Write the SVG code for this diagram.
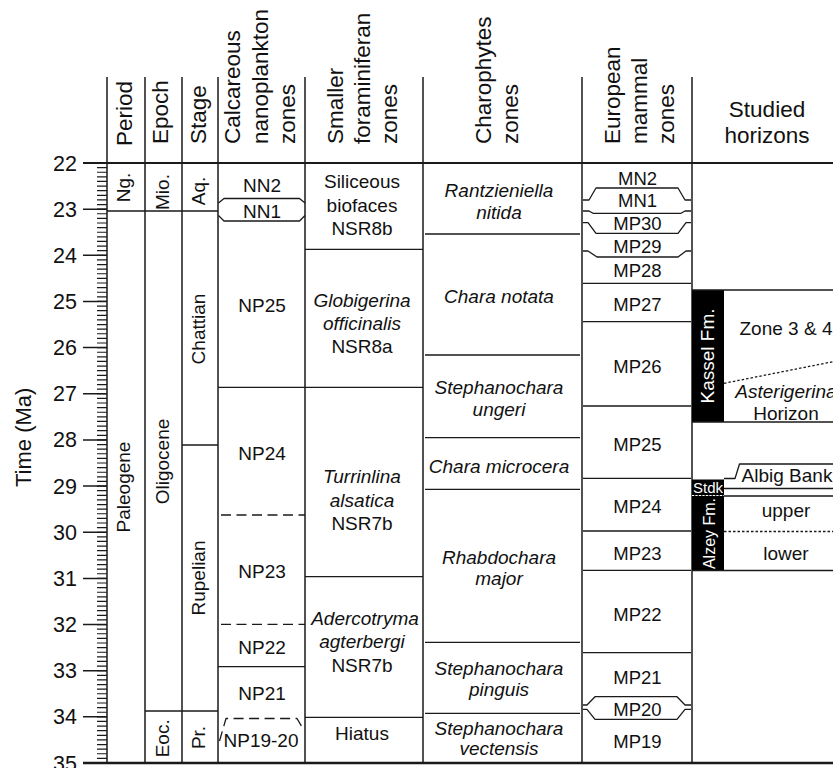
<svg xmlns="http://www.w3.org/2000/svg" width="833" height="768" viewBox="0 0 833 768">
<style>
.t{font-family:"Liberation Sans",Arial,Helvetica,sans-serif;fill:#111}
.h{font-size:22.5px}
.hm{font-size:22.5px;text-anchor:middle}
.z{font-size:19px;text-anchor:middle}
.m{font-size:18.5px;text-anchor:middle}
.i{font-style:italic}
.ax{font-size:21.5px;text-anchor:end}
.w{fill:#fff}
.ln{stroke:#1a1a1a;stroke-width:1.3;fill:none;stroke-linejoin:round}
.bd{stroke:#1a1a1a;stroke-width:1.5;fill:none}
.ds{stroke-dasharray:10 5.5}
.dt{stroke-dasharray:2.5 2}
</style>
<rect width="833" height="768" fill="#fff"/>

<g id="axis">
  <text class="t" font-size="22px" transform="translate(31,487) rotate(-90)">Time (Ma)</text>
  <path class="bd" d="M83,209.15H107M83,255.31H107M83,301.46H107M83,347.62H107M83,393.77H107M83,439.92H107M83,486.08H107M83,532.23H107M83,578.38H107M83,624.54H107M83,670.69H107M83,716.85H107"/>
  <line x1="102" y1="162.4" x2="102" y2="763.6" stroke="#1a1a1a" stroke-width="10" stroke-dasharray="1.2 3.41538"/>
  <text class="t ax" x="77" y="170.5">22</text>
  <text class="t ax" x="77" y="216.7">23</text>
  <text class="t ax" x="77" y="262.8">24</text>
  <text class="t ax" x="77" y="309">25</text>
  <text class="t ax" x="77" y="355.1">26</text>
  <text class="t ax" x="77" y="401.3">27</text>
  <text class="t ax" x="77" y="447.4">28</text>
  <text class="t ax" x="77" y="493.6">29</text>
  <text class="t ax" x="77" y="539.7">30</text>
  <text class="t ax" x="77" y="585.9">31</text>
  <text class="t ax" x="77" y="632">32</text>
  <text class="t ax" x="77" y="678.2">33</text>
  <text class="t ax" x="77" y="724.3">34</text>
  <text class="t ax" x="77" y="770.5">35</text>
</g>

<g id="frame">
  <path class="bd" d="M107,77V763M145,77V763M182,77V763M218,77V763M305,77V763M423,77V763M582,77V763M692,77V763"/>
  <line x1="83" y1="163" x2="833" y2="163" stroke="#1a1a1a" stroke-width="2"/>
  <line x1="83" y1="763" x2="833" y2="763" stroke="#1a1a1a" stroke-width="2.5"/>
</g>

<g id="headers">
  <text class="t h" transform="translate(131.5,146) rotate(-90)">Period</text>
  <text class="t h" transform="translate(168,144) rotate(-90)">Epoch</text>
  <text class="t h" transform="translate(206,144) rotate(-90)">Stage</text>
  <text class="t h" transform="translate(240,144) rotate(-90)">Calcareous</text>
  <text class="t h" transform="translate(267.5,144) rotate(-90)">nanoplankton</text>
  <text class="t h" transform="translate(295,144) rotate(-90)">zones</text>
  <text class="t h" transform="translate(343,144) rotate(-90)">Smaller</text>
  <text class="t h" transform="translate(370,144) rotate(-90)">foraminiferan</text>
  <text class="t h" transform="translate(397,144) rotate(-90)">zones</text>
  <text class="t h" transform="translate(491,144) rotate(-90)">Charophytes</text>
  <text class="t h" transform="translate(518,144) rotate(-90)">zones</text>
  <text class="t h" transform="translate(620,144) rotate(-90)">European</text>
  <text class="t h" transform="translate(647,144) rotate(-90)">mammal</text>
  <text class="t h" transform="translate(674,144) rotate(-90)">zones</text>
  <text class="t hm" x="767" y="117">Studied</text>
  <text class="t hm" x="767" y="143">horizons</text>
</g>

<g id="period-epoch-stage">
  <path class="ln" d="M107,211H218M145,711H218M182,445H218"/>
  <text class="t z" transform="translate(129.5,187.5) rotate(-90)">Ng.</text>
  <text class="t z" transform="translate(129.5,487) rotate(-90)">Paleogene</text>
  <text class="t z" transform="translate(168.5,192) rotate(-90)">Mio.</text>
  <text class="t z" transform="translate(168.5,461.5) rotate(-90)">Oligocene</text>
  <text class="t z" transform="translate(168.5,738.3) rotate(-90)">Eoc.</text>
  <text class="t z" transform="translate(205,191) rotate(-90)">Aq.</text>
  <text class="t z" transform="translate(204.5,329) rotate(-90)">Chattian</text>
  <text class="t z" transform="translate(204.5,578) rotate(-90)">Rupelian</text>
  <text class="t z" transform="translate(205,737.5) rotate(-90)">Pr.</text>
</g>

<g id="nannoplankton">
  <path class="ln" d="M218.5,203L224,198.5H299.5L305,203M218.5,215.5L224,221H299.5L305,215.5M218,387.3H305M218,666.7H305"/>
  <path class="ln ds" d="M221,515H305M221,624.3H305"/>
  <path class="ln ds" d="M219.5,741L226,718.5H297L302,727"/>
  <text class="t z" x="262" y="191.5">NN2</text>
  <text class="t z" x="262" y="217.5">NN1</text>
  <text class="t z" x="262" y="312.3">NP25</text>
  <text class="t z" x="262" y="460">NP24</text>
  <text class="t z" x="262" y="578.3">NP23</text>
  <text class="t z" x="262" y="654.3">NP22</text>
  <text class="t z" x="262" y="700">NP21</text>
  <text class="t z" x="261" y="746.7">NP19-20</text>
</g>

<g id="foraminifera">
  <path class="ln" d="M305,249.3H423M305,387.3H423M305,576.7H423M305,717.3H423"/>
  <text class="t z" x="362" y="188.3">Siliceous</text>
  <text class="t z" x="362" y="211.7">biofaces</text>
  <text class="t z" x="362" y="235">NSR8b</text>
  <text class="t z i" x="362" y="307">Globigerina</text>
  <text class="t z i" x="362" y="330">officinalis</text>
  <text class="t z" x="362" y="353.3">NSR8a</text>
  <text class="t z i" x="362" y="483.3">Turrinlina</text>
  <text class="t z i" x="362" y="506.7">alsatica</text>
  <text class="t z" x="362" y="530">NSR7b</text>
  <text class="t z i" x="365" y="625">Adercotryma</text>
  <text class="t z i" x="362" y="648.3">agterbergi</text>
  <text class="t z" x="362" y="671.7">NSR7b</text>
  <text class="t z" x="362" y="740">Hiatus</text>
</g>

<g id="charophytes">
  <path class="ln" d="M425,234H580M425,355H580M425,437.7H580M425,489.3H580M425,642.3H580M425,713.3H580"/>
  <text class="t z i" x="499" y="197">Rantzieniella</text>
  <text class="t z i" x="499" y="219">nitida</text>
  <text class="t z i" x="499" y="303.3">Chara notata</text>
  <text class="t z i" x="499" y="394">Stephanochara</text>
  <text class="t z i" x="499" y="415.5">ungeri</text>
  <text class="t z i" x="499" y="472.5">Chara microcera</text>
  <text class="t z i" x="499" y="563.5">Rhabdochara</text>
  <text class="t z i" x="499" y="585">major</text>
  <text class="t z i" x="499" y="675.3">Stephanochara</text>
  <text class="t z i" x="499" y="695.5">pinguis</text>
  <text class="t z i" x="499" y="735.3">Stephanochara</text>
  <text class="t z i" x="499" y="754.5">vectensis</text>
</g>

<g id="mammals">
  <path class="ln" d="M583,200H589L596,188H678L685,200H691"/>
  <path class="ln" d="M583,211H589L593,213.3H681L685,211H691"/>
  <path class="ln" d="M583,222.7H588L596,233.3H678L686,222.7H691"/>
  <path class="ln" d="M583,251H588L597,257H678L686,251H691"/>
  <path class="ln" d="M583,283.3H691M583,321.7H691M583,406H691M583,478.3H691M583,531H691M583,570.3H691M583,652.7H691"/>
  <path class="ln" d="M583,705H587L595,696.7H677L685,705H691"/>
  <path class="ln" d="M583,709.3H587L595,719.3H677L685,709.3H691"/>
  <text class="t m" x="637.5" y="185">MN2</text>
  <text class="t m" x="637.5" y="207">MN1</text>
  <text class="t m" x="637.5" y="230">MP30</text>
  <text class="t m" x="637.5" y="252.5">MP29</text>
  <text class="t m" x="637.5" y="277">MP28</text>
  <text class="t m" x="637.5" y="310.5">MP27</text>
  <text class="t m" x="637.5" y="372.5">MP26</text>
  <text class="t m" x="637.5" y="450.5">MP25</text>
  <text class="t m" x="637.5" y="513.3">MP24</text>
  <text class="t m" x="637.5" y="560">MP23</text>
  <text class="t m" x="637.5" y="620.5">MP22</text>
  <text class="t m" x="637.5" y="684">MP21</text>
  <text class="t m" x="637.5" y="716">MP20</text>
  <text class="t m" x="637.5" y="748.3">MP19</text>
</g>

<g id="kassel">
  <rect x="692" y="290" width="32" height="132" fill="#000"/>
  <text class="t w" font-size="19px" text-anchor="middle" transform="translate(713.5,356) rotate(-90)">Kassel Fm.</text>
  <path class="bd" d="M692,290H833M692,422H833"/>
  <path class="ln dt" d="M724,383.3L833,361.7"/>
  <text class="t z" x="786" y="335">Zone 3 &amp; 4</text>
  <text class="t z i" x="786" y="397.5">Asterigerina</text>
  <text class="t z" x="786" y="420">Horizon</text>
</g>

<g id="alzey">
  <rect x="692" y="479.5" width="32" height="16" fill="#000"/>
  <rect x="692" y="495.5" width="32" height="75" fill="#000"/>
  <line x1="692" y1="495.5" x2="724" y2="495.5" stroke="#fff" stroke-width="1.2" stroke-dasharray="2 1.5"/>
  <text class="t w" font-size="15px" text-anchor="middle" x="708" y="492.5">Stdk</text>
  <text class="t w" font-size="16px" text-anchor="middle" transform="translate(714.5,533.5) rotate(-90)">Alzey Fm.</text>
  <path class="ln" d="M724,478.5H735L739.5,464H833M724,488.5H833M724,496H833"/>
  <path class="bd" d="M692,570.5H833"/>
  <path class="ln dt" d="M724,531.5H833"/>
  <text class="t z" x="787" y="481.5">Albig Bank</text>
  <text class="t z" x="786" y="517">upper</text>
  <text class="t z" x="786" y="560">lower</text>
</g>
</svg>
